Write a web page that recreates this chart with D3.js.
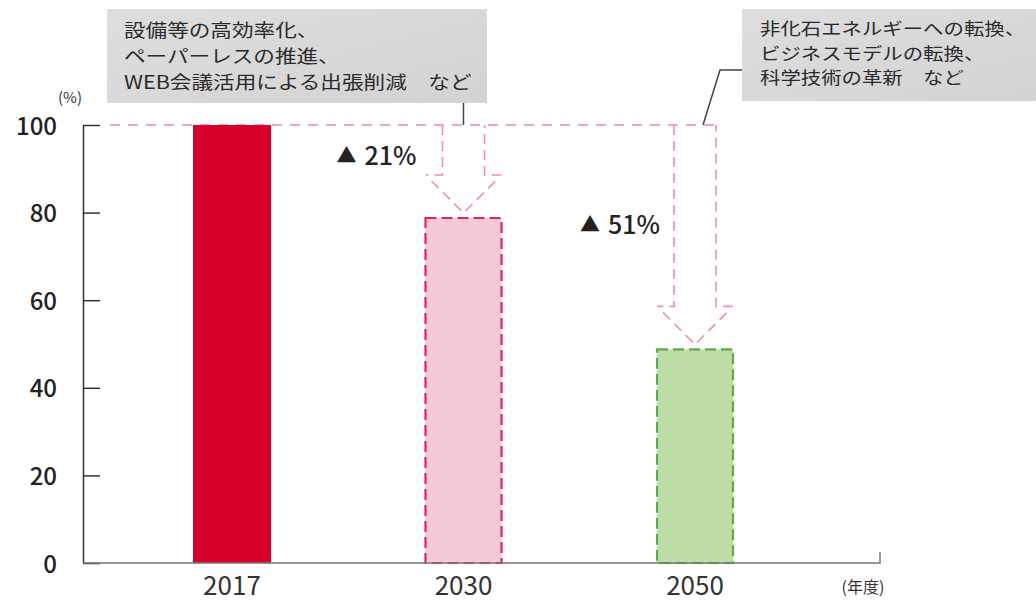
<!DOCTYPE html>
<html lang="ja">
<head>
<meta charset="utf-8">
<script src="https://cdn.jsdelivr.net/npm/d3@7"></script>
<style>
  html, body { margin: 0; padding: 0; background: #fff; }
  svg { display: block; font-family: "Noto Sans CJK JP", "Noto Sans", sans-serif; }
</style>
</head>
<body>
<svg id="chart" width="1036" height="603"></svg>
<script>
// CO2 emission index by fiscal year (2017 = 100)
const years = ["2017", "2030", "2050"];
const values = [100, 79, 49];
const reductions = [null, 21, 51];
const yTicks = [0, 20, 40, 60, 80, 100];
const unitLabel = "(%)";
const xUnitLabel = "(年度)";
const noteNear = ["設備等の高効率化、", "ペーパーレスの推進、", "WEB会議活用による出張削減\u3000など"];
const noteLong = ["非化石エネルギーへの転換、", "ビジネスモデルの転換、", "科学技術の革新\u3000など"];

const svg = d3.select("#chart");

const axisX0 = 83, axisX1 = 880;
const y = d3.scaleLinear().domain([0, 100]).range([563, 125]);
const x = d3.scaleBand().domain(years).range([axisX0, 844])
  .paddingInner(0.663).paddingOuter(0.475);

// bar styles per year
const fills = ["#d6002b", "#f6c9da", "#bedca6"];
const strokes = [null, "#e0245c", "#5fa84c"];

// reference line at 100
svg.append("line")
  .attr("x1", 110).attr("x2", x("2050") + x.bandwidth() / 2 + 22)
  .attr("y1", y(100)).attr("y2", y(100))
  .attr("stroke", "#f08aab").attr("stroke-width", 1.5)
  .attr("stroke-dasharray", "10 8");

// bars
const bars = svg.append("g");
years.forEach((yr, i) => {
  const r = bars.append("rect")
    .attr("x", x(yr)).attr("width", x.bandwidth())
    .attr("y", y(values[i])).attr("height", y(0) - y(values[i]))
    .attr("fill", fills[i]);
  if (strokes[i]) {
    r.attr("x", x(yr) + 1).attr("width", x.bandwidth() - 2)
      .attr("y", y(values[i]) + 1).attr("height", y(0) - y(values[i]) - 1)
      .attr("stroke", strokes[i]).attr("stroke-width", 2.2)
      .attr("stroke-dasharray", "11 5");
  }
});

// dashed block arrows from the 100 line down to each target bar
const arrowG = svg.append("g");
years.forEach((yr, i) => {
  if (reductions[i] == null) return;
  const cx = x(yr) + x.bandwidth() / 2;
  const half = 21, wing = x.bandwidth() / 2 - 1, head = 38;
  const tip = y(values[i]) - 4;
  const neck = tip - head;
  const top = y(100);
  const p = d3.path();
  p.moveTo(cx - half, top); p.lineTo(cx - half, neck); p.lineTo(cx - wing, neck);
  p.moveTo(cx - wing + 6, neck + 6); p.lineTo(cx, tip); p.lineTo(cx + wing - 6, neck + 6);
  p.moveTo(cx + wing, neck); p.lineTo(cx + half, neck); p.lineTo(cx + half, top);
  arrowG.append("path").attr("d", p.toString())
    .attr("fill", "none").attr("stroke", "#ee8fae").attr("stroke-width", 1.6)
    .attr("stroke-dasharray", "10 6");
});

// reduction labels
const labelAt = { "2030": { dx: -47, v: 90.9 }, "2050": { dx: -35, v: 75.3 } };
years.forEach((yr, i) => {
  if (reductions[i] == null) return;
  const cx = x(yr) + x.bandwidth() / 2;
  const t = svg.append("text")
    .attr("x", cx + labelAt[yr].dx).attr("y", y(labelAt[yr].v))
    .attr("dy", "0.36em").attr("text-anchor", "end")
    .attr("fill", "#222").attr("font-size", 25).attr("font-weight", 500);
  t.append("tspan").attr("font-size", 20).attr("dy", "-0.08em").text("▲");
  t.append("tspan").attr("dx", 8).attr("dy", "0.08em").text(reductions[i] + "%");
});

// y axis
const yAxis = d3.axisLeft(y).tickValues(yTicks).tickSizeInner(-17).tickSizeOuter(0).tickPadding(26);
const gy = svg.append("g").attr("transform", `translate(${axisX0},0)`).call(yAxis);
gy.select(".domain").attr("stroke", "#333").attr("stroke-width", 1.5);
gy.selectAll(".tick line").attr("stroke", "#333").attr("stroke-width", 1.5);
gy.selectAll(".tick text").attr("font-size", 24).attr("font-weight", 500)
  .attr("fill", "#222").attr("font-family", "'Noto Sans CJK JP', sans-serif").attr("dy", "0.38em");

svg.append("text").attr("x", 82).attr("y", 103).attr("text-anchor", "end")
  .attr("font-size", 15).attr("fill", "#333").text(unitLabel);

// x axis
const xAxis = d3.axisBottom(x).tickSize(0).tickPadding(14);
const gx = svg.append("g").attr("transform", `translate(0,${y(0)})`).call(xAxis);
gx.select(".domain").remove();
gx.selectAll(".tick text").attr("font-size", 26).attr("fill", "#333")
  .attr("font-family", "'Noto Sans CJK JP', sans-serif");
svg.append("path")
  .attr("d", `M${axisX0},${y(0)}H${axisX1}V${y(0) - 11}`)
  .attr("fill", "none").attr("stroke", "#777").attr("stroke-width", 1.5);
svg.append("text").attr("x", 863).attr("y", 593).attr("text-anchor", "middle")
  .attr("font-size", 16).attr("fill", "#333").text(xUnitLabel);

// note boxes
const defs = svg.append("defs");
const grad = defs.append("linearGradient").attr("id", "boxFill")
  .attr("x1", 0).attr("y1", 0).attr("x2", 1).attr("y2", 1);
grad.append("stop").attr("offset", 0).attr("stop-color", "#dedede");
grad.append("stop").attr("offset", 1).attr("stop-color", "#d3d3d3");

function noteBox(x0, y0, w, h, lines, tx, ty, lh, fs) {
  svg.append("rect").attr("x", x0).attr("y", y0).attr("width", w).attr("height", h)
    .attr("fill", "url(#boxFill)");
  lines.forEach((s, k) => {
    svg.append("text")
      .attr("transform", `translate(${tx},${ty + k * lh}) scale(1.2,1)`)
      .attr("font-size", fs).attr("fill", "#2a2a2a").text(s);
  });
}
noteBox(107, 9, 380, 94, noteNear, 124, 37, 26, 18);
noteBox(742, 9, 294, 92, noteLong, 760, 35, 24.5, 17);

// leader lines
const x2030 = x("2030") + x.bandwidth() / 2;
svg.append("line").attr("x1", x2030).attr("x2", x2030).attr("y1", 103).attr("y2", y(100))
  .attr("stroke", "#444").attr("stroke-width", 1.5);
svg.append("path").attr("d", `M703,${y(100)}L720,70H742`)
  .attr("fill", "none").attr("stroke", "#444").attr("stroke-width", 1.5);
</script>
</body>
</html>
